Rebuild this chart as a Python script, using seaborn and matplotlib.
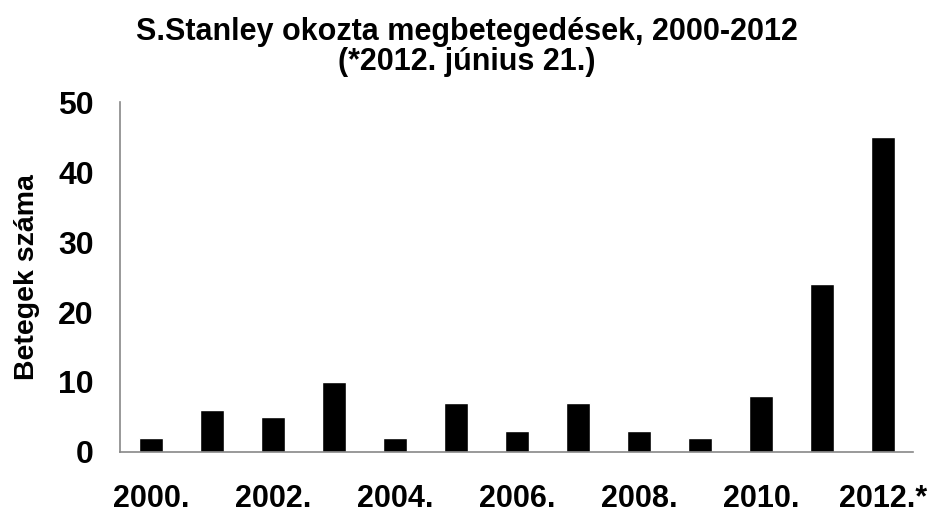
import pandas as pd
import seaborn as sns
import matplotlib.pyplot as plt

years = ['2000.', '2001.', '2002.', '2003.', '2004.', '2005.', '2006.',
         '2007.', '2008.', '2009.', '2010.', '2011.', '2012.*']
cases = [2, 6, 5, 10, 2, 7, 3, 7, 3, 2, 8, 24, 45]
y_ticks = [0, 10, 20, 30, 40, 50]

sns.set_style('white', {'text.color': 'black', 'xtick.color': 'black',
                        'ytick.color': 'black', 'axes.labelcolor': 'black'})
plt.rcParams['font.family'] = ['Liberation Sans', 'DejaVu Sans']

df = pd.DataFrame({'Év': years, 'Betegek': cases})

fig = plt.figure(figsize=(9.33, 5.13), dpi=100)
ax = fig.add_axes([0.129, 0.119, 0.85, 0.682])
sns.barplot(data=df, x='Év', y='Betegek', color='black', width=0.4,
            saturation=1, ax=ax)

ax.set_ylim(0, 50)
ax.set_yticks(y_ticks)
ax.set_xticks(range(len(years)))
ax.set_xticklabels([y if i % 2 == 0 else '' for i, y in enumerate(years)])
ax.tick_params(axis='x', length=0, pad=23, labelsize=22)
ax.tick_params(axis='y', length=0, pad=19, labelsize=23)
for lab in ax.get_xticklabels() + ax.get_yticklabels():
    lab.set_fontweight('bold')

ax.set_xlabel('')
ax.set_ylabel('Betegek száma', fontsize=20.5, fontweight='bold', labelpad=13)
fig.suptitle('S.Stanley okozta megbetegedések, 2000-2012\n(*2012. június 21.)',
             x=0.5, y=0.967, va='top', fontsize=22, fontweight='bold',
             linespacing=1.0)

sns.despine(ax=ax)
for side in ['left', 'bottom']:
    ax.spines[side].set_color('#888888')
    ax.spines[side].set_linewidth(1.2)

fig.savefig('out.png', dpi=100)
